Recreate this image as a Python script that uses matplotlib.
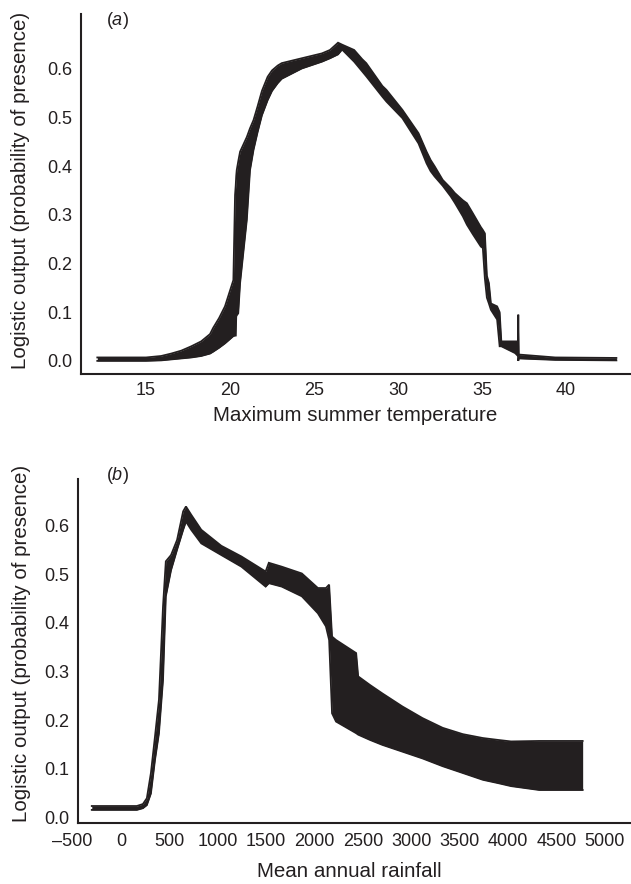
import matplotlib
matplotlib.use("Agg")
import matplotlib.pyplot as plt

plt.rcParams['font.family'] = ['Liberation Sans', 'DejaVu Sans']
plt.rcParams['mathtext.fontset'] = 'custom'
plt.rcParams['mathtext.rm'] = 'Liberation Sans'
plt.rcParams['mathtext.it'] = 'Liberation Sans:italic'

# ---- Panel (a): maximum summer temperature response (band: lower / upper) ----
a_x = [12.1, 15.0, 15.9, 16.5, 17.1, 17.7, 18.28, 18.81, 19.0, 19.35, 19.7, 20.2, 20.3,
       20.34, 20.37, 20.4, 20.49, 20.6, 21.0, 21.19, 21.4, 21.64, 21.9, 22.24, 22.5, 22.84,
       23.08, 24.27, 25.47, 25.95, 26.43, 26.67, 27.39, 27.87, 28.11, 29.07, 29.31, 30.26,
       31.22, 31.7, 31.94, 32.18, 32.66, 33.14, 33.38, 33.86, 34.1, 34.46, 34.93, 35.05,
       35.17, 35.29, 35.41, 35.53, 35.9, 36.05, 36.15, 36.97, 37.14, 37.16, 37.19, 39.36,
       43.0]
a_lo = [0.0, 0.0, 0.001, 0.003, 0.005, 0.007, 0.010, 0.015, 0.019, 0.027, 0.036, 0.051,
        0.052, 0.052, 0.091, 0.094, 0.098, 0.16, 0.29, 0.392, 0.434, 0.47, 0.505, 0.536,
        0.555, 0.571, 0.58, 0.601, 0.615, 0.622, 0.63, 0.64, 0.615, 0.595, 0.585, 0.543,
        0.533, 0.499, 0.447, 0.406, 0.39, 0.379, 0.36, 0.338, 0.325, 0.297, 0.28, 0.26,
        0.235, 0.232, 0.17, 0.13, 0.118, 0.105, 0.085, 0.03, 0.03, 0.016, 0.01, 0.0,
        0.005, 0.002, 0.001]
a_hi = [0.007, 0.007, 0.010, 0.015, 0.021, 0.030, 0.040, 0.055, 0.068, 0.088, 0.112, 0.166,
        0.341, 0.36, 0.38, 0.392, 0.41, 0.43, 0.46, 0.478, 0.495, 0.523, 0.555, 0.584,
        0.597, 0.607, 0.612, 0.622, 0.632, 0.639, 0.654, 0.650, 0.639, 0.62, 0.612, 0.565,
        0.557, 0.516, 0.468, 0.43, 0.413, 0.40, 0.372, 0.355, 0.345, 0.33, 0.324, 0.303,
        0.275, 0.269, 0.262, 0.175, 0.16, 0.118, 0.112, 0.1, 0.04, 0.04, 0.04, 0.095,
        0.013, 0.007, 0.006]
a_xticks = [15, 20, 25, 30, 35, 40]

# ---- Panel (b): mean annual rainfall response ----
b_x = [-301, 164, 227, 268, 310, 352, 393, 435, 464, 518, 580, 643, 672, 726, 830, 1037,
       1245, 1495, 1528, 1661, 1869, 2035, 2118, 2151, 2181, 2222, 2430, 2451, 2575, 2700,
       2908, 3116, 3324, 3532, 3739, 3900, 4030, 4321, 4770]
b_lo = [0.015, 0.015, 0.0185, 0.025, 0.049, 0.118, 0.173, 0.283, 0.455, 0.509, 0.551, 0.592,
        0.609, 0.592, 0.564, 0.540, 0.516, 0.475, 0.482, 0.475, 0.455, 0.420, 0.393, 0.365,
        0.214, 0.197, 0.173, 0.170, 0.159, 0.149, 0.135, 0.121, 0.105, 0.091, 0.077, 0.070,
        0.064, 0.056, 0.056]
b_hi = [0.023, 0.023, 0.027, 0.039, 0.091, 0.166, 0.242, 0.434, 0.527, 0.540, 0.571, 0.630,
        0.640, 0.623, 0.592, 0.559, 0.537, 0.506, 0.524, 0.516, 0.502, 0.472, 0.472, 0.479,
        0.372, 0.365, 0.338, 0.290, 0.272, 0.255, 0.228, 0.204, 0.184, 0.171, 0.163, 0.159,
        0.156, 0.157, 0.157]
b_xticks = [-500, 0, 500, 1000, 1500, 2000, 2500, 3000, 3500, 4000, 4500, 5000]

y_ticks = [0.0, 0.1, 0.2, 0.3, 0.4, 0.5, 0.6]
ylabel = "Logistic output (probability of presence)"
INK = '#231f20'

W, H = 631, 884
fig = plt.figure(figsize=(W / 100, H / 100), dpi=100)
ax1 = fig.add_axes([81 / W, 510 / H, 549 / W, 360 / H])
ax2 = fig.add_axes([69.6 / W, 61 / H, 560.4 / W, 343.7 / H])


def band(ax, x, lo, hi):
    ax.fill_between(x, lo, hi, color=INK, lw=0)
    ax.plot(x, lo, color=INK, lw=1.3, solid_joinstyle='miter')
    ax.plot(x, hi, color=INK, lw=1.3, solid_joinstyle='miter')


def style(ax):
    for s in ('top', 'right'):
        ax.spines[s].set_visible(False)
    for s in ('left', 'bottom'):
        ax.spines[s].set_linewidth(1.5)
        ax.spines[s].set_color(INK)
    ax.tick_params(length=0, labelsize=13, colors=INK, pad=6)
    ax.set_yticks(y_ticks)
    ax.set_yticklabels([f"{v:.1f}" for v in y_ticks])


band(ax1, a_x, a_lo, a_hi)
style(ax1)
ax1.set_xlim(11.13, 43.81)
ax1.set_ylim(-0.027, 0.713)
ax1.set_xticks(a_xticks)
ax1.set_xlabel("Maximum summer temperature", fontsize=14.8, color=INK, va='center')
ax1.xaxis.set_label_coords(0.5, -0.114)
ax1.set_ylabel(ylabel, fontsize=14.8, color=INK, va='center')
ax1.yaxis.set_label_coords(-0.111, 0.51)
ax1.text(0.0656, 0.983, r"($\mathit{a}$)", transform=ax1.transAxes, fontsize=13,
         ha='center', va='center', color=INK)

band(ax2, b_x, b_lo, b_hi)
style(ax2)
ax2.set_xlim(-530, 5259)
ax2.set_ylim(-0.012, 0.696)
ax2.spines['left'].set_position(('data', -443))
ax2.spines['bottom'].set_bounds(-443, 5259)
ax2.set_xticks(b_xticks)
ax2.set_xticklabels(["\u2013500" if v < 0 else str(v) for v in b_xticks])
ax2.tick_params(axis='x', pad=7)
ax2.set_xlabel("Mean annual rainfall", fontsize=14.8, color=INK, va='center')
ax2.xaxis.set_label_coords(0.5, -0.14)
ax2.set_ylabel(ylabel, fontsize=14.8, color=INK, va='center')
ax2.yaxis.set_label_coords(-0.0867, 0.521)
ax2.text(0.0846, 1.01, r"($\mathit{b}$)", transform=ax2.transAxes, fontsize=13,
         ha='center', va='center', color=INK, clip_on=False)

fig.savefig("out.png", dpi=100)
